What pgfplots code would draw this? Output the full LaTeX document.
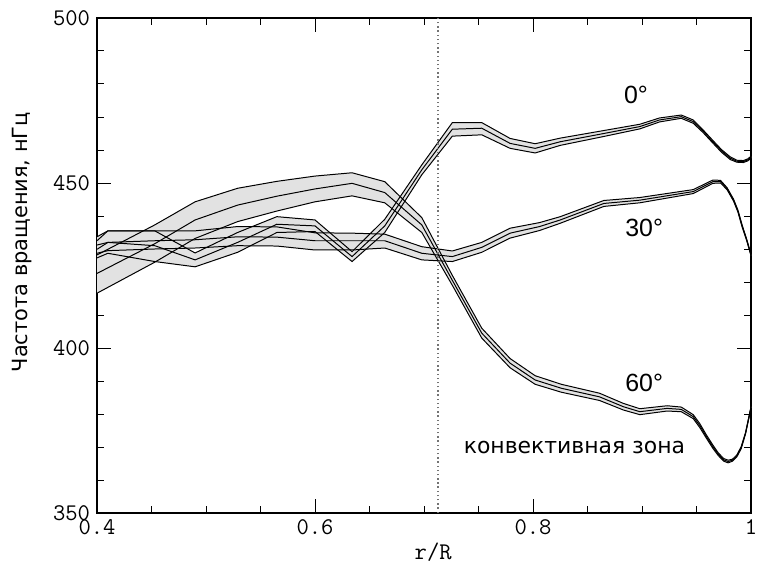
\documentclass[border=0pt]{standalone}
\usepackage{pgfplots}
\pgfplotsset{compat=1.18}
\usepackage{pgfplotstable}
\usepgfplotslibrary{fillbetween}
\usepackage{fontspec}
\newfontfamily\dejavu{DejaVu Sans}
\newfontfamily\libsans{Liberation Sans}
\definecolor{bandgray}{gray}{0.885}

% 0 degrees: r, lower, centre, upper
\pgfplotstableread{
r lo c hi
0.400 427.3 429.9 432.5
0.410 428.7 432.0 435.5
0.453 426.2 431.0 435.5
0.490 424.6 426.7 428.8
0.529 429.0 432.0 435.0
0.565 435.0 437.5 439.8
0.600 435.3 437.0 438.8
0.634 426.2 427.7 429.2
0.664 435.0 437.0 439.0
0.698 452.5 454.0 455.5
0.726 464.2 466.3 468.3
0.753 464.6 466.6 468.3
0.779 460.5 462.0 463.5
0.802 459.1 460.5 461.9
0.825 461.4 462.5 463.6
0.865 464.1 465.0 465.9
0.898 466.4 467.1 467.8
0.916 468.5 469.1 469.7
0.936 469.6 470.1 470.6
0.947 468.1 468.6 469.1
0.956 465.3 465.7 466.1
0.965 462.1 462.5 462.9
0.973 459.3 459.7 460.1
0.981 457.1 457.5 457.9
0.987 456.3 456.6 456.9
0.993 456.2 456.5 456.8
0.997 456.7 457.0 457.3
1.000 457.5 457.8 458.1
}\zero

% 30 degrees
\pgfplotstableread{
r lo c hi
0.400 428.7 431.2 433.7
0.410 429.5 432.0 435.5
0.453 430.0 432.5 435.5
0.490 430.3 432.8 435.5
0.529 431.0 433.7 436.8
0.565 430.9 433.6 436.7
0.600 429.7 432.5 434.9
0.634 429.7 432.5 434.8
0.664 430.3 432.5 434.5
0.698 426.7 428.7 430.7
0.726 426.2 427.7 429.4
0.753 429.0 430.5 432.0
0.779 433.3 434.8 436.3
0.806 435.6 436.8 438.0
0.825 437.8 438.8 439.8
0.865 442.9 443.8 444.7
0.898 444.0 444.8 445.6
0.947 446.8 447.4 448.0
0.965 449.9 450.4 450.9
0.972 450.0 450.4 450.8
0.978 448.0 448.3 448.6
0.984 444.5 444.8 445.1
0.988 441.2 441.5 441.8
0.992 436.5 436.8 437.1
0.996 432.6 432.8 433.0
1.000 428.0 428.2 428.4
}\thirty

% 60 degrees
\pgfplotstableread{
r lo c hi
0.400 416.6 422.6 428.2
0.453 426.0 431.6 437.3
0.490 433.2 438.8 444.3
0.529 438.3 443.3 448.4
0.565 441.5 446.0 450.5
0.600 444.3 448.2 452.1
0.634 446.1 449.9 453.1
0.664 444.0 447.1 450.4
0.698 435.0 437.3 439.5
0.726 419.0 420.5 422.0
0.753 403.0 404.5 406.0
0.779 394.0 395.4 396.8
0.802 389.0 390.3 391.6
0.826 386.6 387.8 389.0
0.861 384.1 385.2 386.3
0.883 381.2 382.2 383.2
0.898 379.8 380.7 381.6
0.923 380.9 381.7 382.5
0.936 380.7 381.4 382.1
0.947 378.6 379.2 379.8
0.953 375.9 376.5 377.1
0.959 372.7 373.2 373.7
0.965 369.6 370.1 370.6
0.970 367.4 367.8 368.2
0.975 365.7 366.1 366.5
0.979 365.2 365.6 366.0
0.983 365.7 366.0 366.3
0.987 367.0 367.3 367.6
0.991 369.5 369.8 370.1
0.995 374.0 374.2 374.4
1.000 381.8 382.0 382.2
}\sixty

\begin{document}
\begin{tikzpicture}
\begin{axis}[
  scale only axis, width=327bp, height=247.5bp,
  xmin=0.4, xmax=1, ymin=350, ymax=500,
  xtick={0.4,0.6,0.8,1}, ytick={350,400,450,500},
  minor x tick num=3, minor y tick num=4,
  tick align=inside, tick pos=both,
  major tick length=7bp, minor tick length=3.5bp,
  axis line style={line width=0.6pt},
  every tick/.style={black, line width=0.5pt},
  ticklabel style={font=\ttfamily\fontsize{12}{12}\selectfont},
  /pgf/number format/assume math mode=true,
  xlabel={r/R},
  xlabel style={font=\ttfamily\fontsize{12}{12}\selectfont, at={(axis description cs:0.514,-0.079)}, anchor=center},
  ylabel={Частота вращения, нГц},
  ylabel style={font=\dejavu\fontsize{10.5}{10.5}\selectfont, at={(axis description cs:-0.1147,0.547)}, anchor=center},
]
% bands (fills first)
\addplot[draw=none, name path=a0] table[x=r,y=hi]{\zero};
\addplot[draw=none, name path=b0] table[x=r,y=lo]{\zero};
\addplot[fill=bandgray, draw=none] fill between[of=a0 and b0];
\addplot[draw=none, name path=a3] table[x=r,y=hi]{\thirty};
\addplot[draw=none, name path=b3] table[x=r,y=lo]{\thirty};
\addplot[fill=bandgray, draw=none] fill between[of=a3 and b3];
\addplot[draw=none, name path=a6] table[x=r,y=hi]{\sixty};
\addplot[draw=none, name path=b6] table[x=r,y=lo]{\sixty};
\addplot[fill=bandgray, draw=none] fill between[of=a6 and b6];
% lines
\addplot[black, line width=0.5pt] table[x=r,y=hi]{\zero};
\addplot[black, line width=0.5pt] table[x=r,y=c]{\zero};
\addplot[black, line width=0.5pt] table[x=r,y=lo]{\zero};
\addplot[black, line width=0.5pt] table[x=r,y=hi]{\thirty};
\addplot[black, line width=0.5pt] table[x=r,y=c]{\thirty};
\addplot[black, line width=0.5pt] table[x=r,y=lo]{\thirty};
\addplot[black, line width=0.5pt] table[x=r,y=hi]{\sixty};
\addplot[black, line width=0.5pt] table[x=r,y=c]{\sixty};
\addplot[black, line width=0.5pt] table[x=r,y=lo]{\sixty};
% base of convection zone
\addplot[black!55, line width=0.7pt, dash pattern=on 0.7pt off 1.4pt] coordinates {(0.713,350) (0.713,500)};
% labels
\node[font=\libsans\fontsize{12.5}{12.5}\selectfont] at (axis cs:0.8945,476.7) {0°};
\node[font=\libsans\fontsize{12.5}{12.5}\selectfont] at (axis cs:0.902,436.5) {30°};
\node[font=\libsans\fontsize{12.5}{12.5}\selectfont] at (axis cs:0.902,389.5) {60°};
\node[font=\dejavu\fontsize{11}{11}\selectfont] at (axis cs:0.838,369.7) {конвективная зона};
\end{axis}
\pgfresetboundingbox
\path[use as bounding box] (-48.5bp,-27.5bp) rectangle (333bp,256.5bp);
\end{tikzpicture}
\end{document}
